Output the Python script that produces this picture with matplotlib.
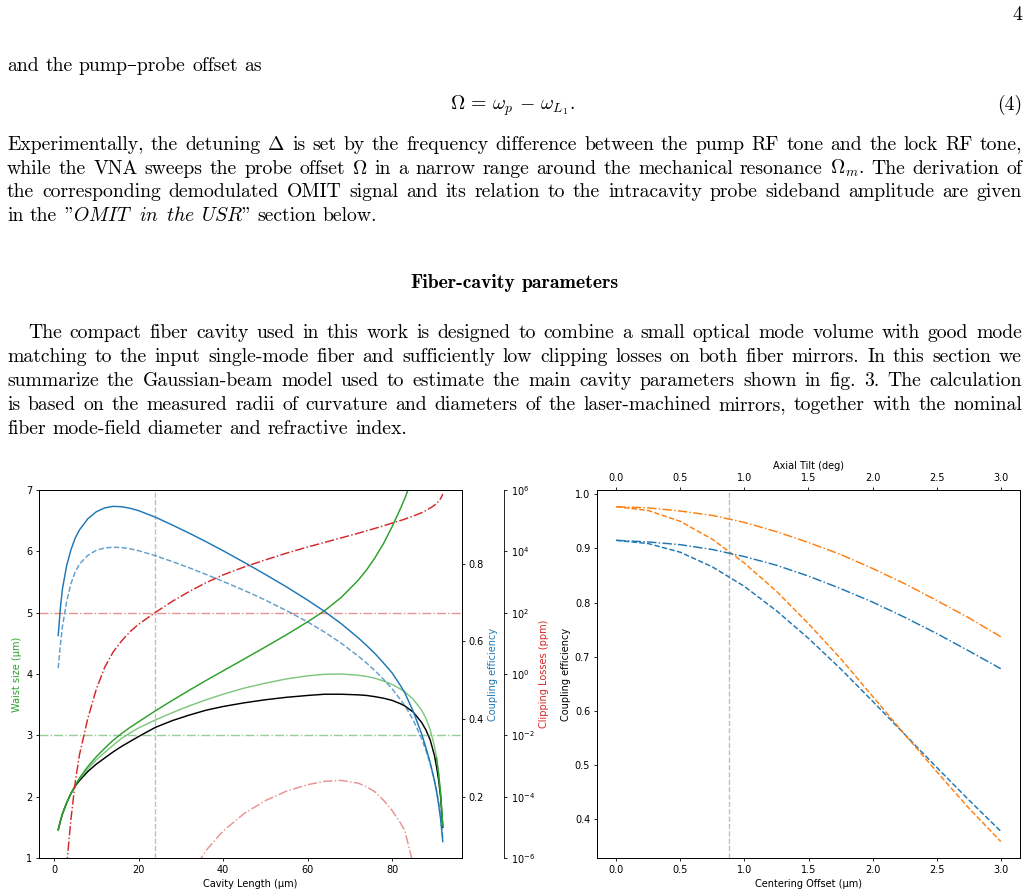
import numpy as np
import matplotlib
matplotlib.use("Agg")
import matplotlib.pyplot as plt
from matplotlib.ticker import NullLocator

# ---------------- data ----------------
cavity_length = [1, 1.5, 2, 3, 4, 5, 6, 8, 10, 12, 14, 16, 18, 20, 24, 28, 32, 36, 40, 45,
                 50, 55, 60, 64, 68, 72, 74, 76, 78, 80, 82, 83, 85, 87, 88, 89, 90, 90.5, 91, 91.5, 92]
waist_center = [1.46, 1.60, 1.72, 1.90, 2.05, 2.17, 2.26, 2.41, 2.53, 2.63, 2.73, 2.82, 2.90, 2.98,
                3.13, 3.24, 3.33, 3.41, 3.47, 3.53, 3.58, 3.62, 3.65, 3.67, 3.67, 3.66, 3.65, 3.63,
                3.605, 3.57, 3.515, 3.48, 3.38, 3.21, 3.09, 2.93, 2.68, 2.50, 2.28, 1.99, 1.50]
waist_mirror2 = [1.46, 1.60, 1.72, 1.90, 2.05, 2.18, 2.28, 2.45, 2.60, 2.72, 2.84, 2.95, 3.04, 3.12,
                 3.25, 3.37, 3.48, 3.58, 3.67, 3.77, 3.85, 3.92, 3.97, 3.995, 4.00, 3.98, 3.96, 3.93,
                 3.885, 3.83, 3.755, 3.71, 3.59, 3.41, 3.28, 3.10, 2.83, 2.64, 2.38, 2.04, 1.52]
waist_mirror1 = [1.46, 1.60, 1.72, 1.90, 2.05, 2.18, 2.30, 2.49, 2.65, 2.79, 2.92, 3.03, 3.13, 3.22,
                 3.40, 3.57, 3.735, 3.895, 4.05, 4.245, 4.44, 4.64, 4.85, 5.03, 5.25, 5.53, 5.70, 5.90,
                 6.13, 6.40, 6.70, 6.86, 7.22, 7.70, 8.05, np.nan, np.nan, 2.64, 2.38, 2.04, 1.52]
coupling_solid = [0.615, 0.685, 0.735, 0.795, 0.835, 0.865, 0.886, 0.915, 0.933, 0.943, 0.947, 0.946,
                  0.942, 0.936, 0.919, 0.899, 0.878, 0.856, 0.833, 0.803, 0.772, 0.740, 0.706, 0.677,
                  0.645, 0.609, 0.589, 0.568, 0.544, 0.519, 0.486, 0.468, 0.420, 0.362, 0.327, 0.289,
                  0.243, 0.215, 0.182, 0.142, 0.085]
coupling_dashed = [0.531, 0.590, 0.638, 0.703, 0.748, 0.778, 0.798, 0.821, 0.834, 0.840, 0.842, 0.841,
                   0.838, 0.833, 0.820, 0.805, 0.789, 0.772, 0.754, 0.731, 0.706, 0.679, 0.650, 0.624,
                   0.595, 0.562, 0.544, 0.524, 0.502, 0.478, 0.450, 0.435, 0.398, 0.350, 0.320, 0.286,
                   0.244, 0.219, 0.188, 0.150, 0.095]
clip_main_log10 = [-12, -10, -8.5, -6.25, -4.75, -3.55, -2.65, -1.45, -0.5, 0.22, 0.72, 1.08, 1.38, 1.62,
                   2.01, 2.37, 2.69, 2.98, 3.23, 3.49, 3.72, 3.94, 4.14, 4.29, 4.44, 4.59, 4.67, 4.75,
                   4.835, 4.92, 5.005, 5.05, 5.15, 5.26, 5.33, 5.41, 5.50, 5.56, 5.63, 5.72, 5.87]
clip_aux_log10 = [np.nan] * 16 + [-6.6, -5.75, -5.12, -4.55, -4.13, -3.82, -3.61, -3.50, -3.47, -3.56,
                                  -3.68, -3.85, -4.12, -4.45, -4.86, -5.1, -6.2, -8.0] + [np.nan] * 7
design_length = 24
waist_limit = 3
clip_limit_ppm = 100

offset_um = [0, 0.25, 0.5, 0.75, 1.0, 1.25, 1.5, 1.75, 2.0, 2.25, 2.5, 2.75, 3.0]
eff_offset_blue = [0.915, 0.909, 0.893, 0.866, 0.830, 0.785, 0.734, 0.678, 0.618, 0.557, 0.496, 0.436, 0.378]
eff_offset_orange = [0.977, 0.970, 0.950, 0.917, 0.873, 0.821, 0.761, 0.697, 0.627, 0.557, 0.488, 0.421, 0.359]
tilt_deg = [0, 0.25, 0.5, 0.75, 1.0, 1.25, 1.5, 1.75, 2.0, 2.25, 2.5, 2.75, 3.0]
eff_tilt_blue = [0.915, 0.912, 0.907, 0.898, 0.885, 0.869, 0.849, 0.826, 0.801, 0.773, 0.743, 0.711, 0.678]
eff_tilt_orange = [0.977, 0.975, 0.969, 0.961, 0.948, 0.931, 0.911, 0.889, 0.863, 0.835, 0.804, 0.772, 0.737]
marked_offset = 0.877

# ---------------- style ----------------
plt.rcParams.update({
    "font.size": 7, "axes.labelsize": 7, "xtick.labelsize": 7, "ytick.labelsize": 7,
    "xtick.major.size": 2.5, "ytick.major.size": 2.5, "xtick.major.pad": 2.4, "ytick.major.pad": 2.4,
    "xtick.major.width": 0.6, "ytick.major.width": 0.6, "axes.linewidth": 0.6,
    "lines.linewidth": 1.05, "axes.labelpad": 2.8,
})

W, H = 1030, 896
fig = plt.figure(figsize=(W / 100, H / 100), dpi=100)
renderer = fig.canvas.get_renderer()

# ---------------- page text ----------------
BODY = 14.2
SPACE = BODY * 100 / 72 * 0.333


def put_line(words, base_y, x0=7, x1=1022, justify=True, align="left", size=BODY,
             family=("cmr10", "DejaVu Serif")):
    texts = [fig.text(0, 1 - base_y / H, w, fontsize=size, family=list(family),
                      math_fontfamily="cm", va="baseline", ha="left") for w in words]
    widths = [t.get_window_extent(renderer).width for t in texts]
    if justify and len(words) > 1:
        gap = (x1 - x0 - sum(widths)) / (len(words) - 1)
    else:
        gap = SPACE
    total = sum(widths) + gap * (len(words) - 1)
    if align == "left":
        x = x0
    elif align == "right":
        x = x1 - total
    else:
        x = x0 - total / 2
    for t, w in zip(texts, widths):
        t.set_x(x / W)
        x += w + gap


put_line(["4"], 20, x1=1022, justify=False, align="right")
put_line("and the pump–probe offset as".split(), 71, justify=False)
put_line([r"$\Omega\,=\,\omega_p\,-\,\omega_{L_1}.$"], 110, x0=513, justify=False, align="center")
put_line(["(4)"], 110, x1=1022, justify=False, align="right")

para1 = [
    r"Experimentally, the detuning $\Delta$ is set by the frequency difference between the pump RF tone and the lock RF tone,",
    r"while the VNA sweeps the probe offset $\Omega$ in a narrow range around the mechanical resonance $\Omega_m$. The derivation of",
    r"the corresponding demodulated OMIT signal and its relation to the intracavity probe sideband amplitude are given",
]
for i, line in enumerate(para1):
    put_line(line.split(" "), 150 + 23.6 * i)
put_line(['in', 'the', r'"$\mathit{OMIT}$', r'$\mathit{in}$', r'$\mathit{the}$', r'$\mathit{USR}$"',
          'section', 'below.'], 150 + 23.6 * 3, justify=False)

put_line(["Fiber-cavity", "parameters"], 288, x0=515, justify=False, align="center",
         family=("cmb10", "DejaVu Serif"))

para2 = [
    "The compact fiber cavity used in this work is designed to combine a small optical mode volume with good mode",
    "matching to the input single-mode fiber and sufficiently low clipping losses on both fiber mirrors. In this section we",
    "summarize the Gaussian-beam model used to estimate the main cavity parameters shown in fig. 3. The calculation",
    "is based on the measured radii of curvature and diameters of the laser-machined mirrors, together with the nominal",
]
for i, line in enumerate(para2):
    put_line(line.split(" "), 338 + 23.9 * i, x0=28 if i == 0 else 7)
put_line("fiber mode-field diameter and refractive index.".split(), 338 + 23.9 * 4, justify=False)

# ---------------- left chart ----------------
axL = fig.add_axes([39 / W, 1 - 858 / H, (462 - 39) / W, (858 - 490) / H])
axC = axL.twinx()
axP = axL.twinx()
axP.spines["right"].set_position(("axes", 1 + (504 - 462) / (462 - 39)))

axL.plot(cavity_length, waist_center, color="black")
axL.plot(cavity_length, waist_mirror2, color="tab:green", alpha=0.6)
axL.plot(cavity_length, waist_mirror1, color="tab:green")
axL.axhline(waist_limit, color="tab:green", alpha=0.5, ls="-.", lw=1.0)
axL.axvline(design_length, color="gray", alpha=0.5, ls="--", lw=1.0)
axL.set_ylim(1, 7)
axL.set_xlabel("Cavity Length (µm)")
axL.set_ylabel("Waist size (µm)", color="tab:green")

axC.plot(cavity_length, coupling_solid, color="tab:blue")
axC.plot(cavity_length, coupling_dashed, color="tab:blue", ls="--", alpha=0.7)
axC.set_ylim(0.043, 0.989)
axC.set_ylabel("Coupling efficiency", color="tab:blue")

axP.set_yscale("log")
axP.plot(cavity_length, 10.0 ** np.array(clip_main_log10), color="tab:red", ls="-.")
axP.plot(cavity_length, 10.0 ** np.array(clip_aux_log10), color="tab:red", ls="-.", alpha=0.5)
axP.axhline(clip_limit_ppm, color="tab:red", alpha=0.5, ls="-.", lw=1.0)
axP.set_ylim(1e-6, 1e6)
axP.set_yticks([1e-6, 1e-4, 1e-2, 1e0, 1e2, 1e4, 1e6])
axP.yaxis.set_minor_locator(NullLocator())
axP.set_ylabel("Clipping Losses (ppm)", color="tab:red")

# ---------------- right chart ----------------
axR = fig.add_axes([597 / W, 1 - 858.3 / H, (1020 - 597) / W, (858.3 - 490) / H])
axT = axR.twiny()
axR.plot(offset_um, eff_offset_blue, color="tab:blue", ls="--")
axR.plot(offset_um, eff_offset_orange, color="tab:orange", ls="--")
axT.plot(tilt_deg, eff_tilt_blue, color="tab:blue", ls="-.")
axT.plot(tilt_deg, eff_tilt_orange, color="tab:orange", ls="-.")
axR.axvline(marked_offset, color="gray", alpha=0.5, ls="--", lw=1.0)
axT.set_xlim(axR.get_xlim())
axR.set_xlabel("Centering Offset (µm)")
axT.set_xlabel("Axial Tilt (deg)")
axR.set_ylabel("Coupling efficiency")

fig.savefig("out.png", dpi=100)
